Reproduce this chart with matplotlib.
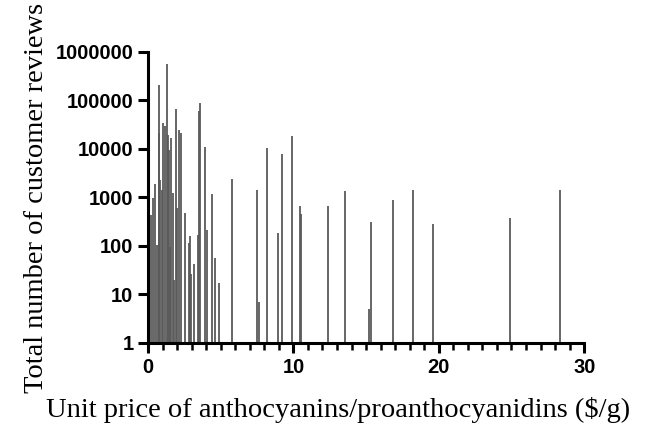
import matplotlib
matplotlib.use("Agg")
import matplotlib.pyplot as plt
from matplotlib.ticker import FixedLocator, MultipleLocator, FixedFormatter

# unit price ($/g) and number of customer reviews
price = [0.18, 0.32, 0.50, 0.60, 0.73, 0.78, 0.85, 0.96, 1.05, 1.17,
         1.28, 1.35, 1.47, 1.52, 1.58, 1.70, 1.76, 1.90, 2.02, 2.13,
         2.29, 2.56, 2.79, 2.89, 2.96, 3.14, 3.41, 3.48, 3.60, 3.90,
         4.05, 4.42, 4.63, 4.86, 5.80, 7.49, 7.60, 8.18, 8.96, 9.21,
         9.90, 10.45, 10.54, 12.35, 13.52, 15.21, 15.33, 16.86, 18.26, 19.59,
         24.90, 28.34]
reviews = [440, 960, 1900, 105, 21000, 210000, 2300, 1400, 35000, 30000,
           560000, 19000, 9500, 95, 16500, 1250, 20, 66000, 600, 25000,
           21000, 470, 114, 160, 27, 42, 170, 60000, 87000, 10800,
           210, 1170, 56, 17, 2400, 1400, 7, 10500, 185, 7900,
           18500, 680, 450, 680, 1350, 5, 310, 890, 1420, 280,
           380, 1450]

ytick_vals = [1, 10, 100, 1000, 10000, 100000, 1000000]
ytick_labels = ["1", "10", "100", "1000", "10000", "100000", "1000000"]

fig = plt.figure(figsize=(6.52, 4.26), dpi=100)
ax = fig.add_axes([0.227, 0.195, 0.669, 0.683])

ax.vlines(price, 1, reviews, color="#5a5a5a", lw=1.3)

ax.set_yscale("log")
ax.set_ylim(1, 1e6)
ax.set_xlim(0, 30)
ax.yaxis.set_major_locator(FixedLocator(ytick_vals))
ax.yaxis.set_major_formatter(FixedFormatter(ytick_labels))
ax.yaxis.set_minor_locator(FixedLocator([]))
ax.xaxis.set_major_locator(MultipleLocator(10))
ax.xaxis.set_minor_locator(MultipleLocator(1))

for s in ("top", "right"):
    ax.spines[s].set_visible(False)
for s in ("left", "bottom"):
    ax.spines[s].set_linewidth(2.2)

ax.tick_params(which="major", length=7, width=2.2, direction="out")
ax.tick_params(axis="x", which="minor", length=5, width=1.8, direction="out")
for lab in ax.get_xticklabels() + ax.get_yticklabels():
    lab.set_fontfamily("Liberation Sans")
    lab.set_fontweight("bold")
    lab.set_fontsize(14.5)

ax.set_xlabel("Unit price of anthocyanins/proanthocyanidins ($/g)",
              family="Liberation Serif", fontsize=20.5)
ax.xaxis.set_label_coords(0.436, -0.185)
ax.set_ylabel("Total number of customer reviews",
              family="Liberation Serif", fontsize=20.5, labelpad=5)

fig.savefig("out.png", dpi=100)
